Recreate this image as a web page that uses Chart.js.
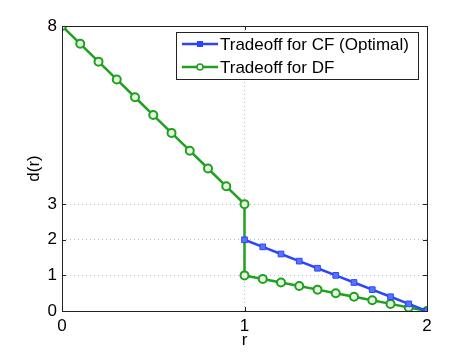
<!DOCTYPE html>
<html>
<head>
<meta charset="utf-8">
<script src="https://cdn.jsdelivr.net/npm/chart.js@4.4.0/dist/chart.umd.min.js"></script>
<style>
  html, body { margin: 0; padding: 0; background: #fff; }
  #wrap { width: 471px; height: 354px; }
</style>
</head>
<body>
<div id="wrap"><canvas id="chart" width="471" height="354"></canvas></div>
<script>
// data
var cfR = [1, 1.1, 1.2, 1.3, 1.4, 1.5, 1.6, 1.7, 1.8, 1.9, 2];
var cfD = [2, 1.8, 1.6, 1.4, 1.2, 1, 0.8, 0.6, 0.4, 0.2, 0];

var dfR = [0, 0.1, 0.2, 0.3, 0.4, 0.5, 0.6, 0.7, 0.8, 0.9, 1, 1, 1.1, 1.2, 1.3, 1.4, 1.5, 1.6, 1.7, 1.8, 1.9, 2];
var dfD = [8, 7.5, 7, 6.5, 6, 5.5, 5, 4.5, 4, 3.5, 3, 1, 0.9, 0.8, 0.7, 0.6, 0.5, 0.4, 0.3, 0.2, 0.1, 0];

var xTicks = [0, 1, 2];
var yTicks = [0, 1, 2, 3, 8];

var labels = ["Tradeoff for CF (Optimal)", "Tradeoff for DF"];

var blue = "#2b45ff";
var green = "#1fa01f";
var fontFam = "'Liberation Sans', Arial, sans-serif";
var fs = 17;

function toPts(xs, ys) {
    return xs.map(function (x, i) { return { x: x, y: ys[i] } });
}

// box + inward ticks + legend, matlab style
var boxPlugin = {
    id: 'boxPlugin',
    afterDraw: function (chart) {
        var ctx = chart.ctx;
        var a = chart.chartArea;
        var sx = chart.scales.x, sy = chart.scales.y;
        ctx.save();
        ctx.strokeStyle = '#222';
        ctx.lineWidth = 1;
        ctx.setLineDash([]);
        ctx.strokeRect(Math.round(a.left) + 0.5, Math.round(a.top) + 0.5, Math.round(a.right - a.left), Math.round(a.bottom - a.top));
        ctx.beginPath();
        xTicks.forEach(function (v) {
            var px = Math.round(sx.getPixelForValue(v)) + 0.5;
            ctx.moveTo(px, a.bottom); ctx.lineTo(px, a.bottom - 4);
            ctx.moveTo(px, a.top); ctx.lineTo(px, a.top + 4);
        });
        yTicks.forEach(function (v) {
            var py = Math.round(sy.getPixelForValue(v)) + 0.5;
            ctx.moveTo(a.left, py); ctx.lineTo(a.left + 4, py);
            ctx.moveTo(a.right, py); ctx.lineTo(a.right - 4, py);
        });
        ctx.stroke();

        // legend
        var lx = 176.5, ly = 32.5, lw = 242, lh = 47;
        ctx.fillStyle = '#fff';
        ctx.fillRect(lx, ly, lw, lh);
        ctx.strokeStyle = '#222';
        ctx.strokeRect(lx, ly, lw, lh);
        var rows = [44, 67];
        var cols = [blue, green];
        ctx.font = fs + "px " + fontFam;
        ctx.textBaseline = 'middle';
        rows.forEach(function (y, i) {
            ctx.strokeStyle = cols[i];
            ctx.lineWidth = 2.5;
            ctx.beginPath();
            ctx.moveTo(182, y); ctx.lineTo(218, y);
            ctx.stroke();
            ctx.lineWidth = 1.5;
            if (i == 0) {
                ctx.fillStyle = blue;
                ctx.fillRect(197, y - 3, 6, 6);
            } else {
                ctx.fillStyle = '#fff';
                ctx.beginPath();
                ctx.arc(200, y, 3, 0, Math.PI * 2);
                ctx.fill();
                ctx.stroke();
            }
            ctx.fillStyle = '#000';
            ctx.fillText(labels[i], 220, y + 1);
        });
        ctx.restore();
    }
};

var ctx = document.getElementById("chart").getContext("2d");

new Chart(ctx, {
    type: "scatter",
    data: {
        datasets: [{
            label: labels[0],
            data: toPts(cfR, cfD),
            showLine: true,
            borderColor: blue,
            backgroundColor: blue,
            borderWidth: 2.5,
            pointStyle: 'rect',
            pointRadius: 4,
            pointBorderWidth: 1,
            pointBorderColor: blue,
            pointBackgroundColor: '#5a73ff',
            tension: 0
        }, {
            label: labels[1],
            data: toPts(dfR, dfD),
            showLine: true,
            borderColor: green,
            backgroundColor: green,
            borderWidth: 2.5,
            pointStyle: 'circle',
            pointRadius: 4,
            pointBorderWidth: 2,
            pointBorderColor: green,
            pointBackgroundColor: '#e8f5e0',
            tension: 0
        }]
    },
    options: {
        responsive: false,
        animation: false,
        layout: { padding: { left: 0, right: 44, top: 26, bottom: 0 } },
        plugins: {
            legend: { display: false },
            tooltip: { enabled: false }
        },
        scales: {
            x: {
                type: 'linear',
                min: 0,
                max: 2,
                afterBuildTicks: function (s) { s.ticks = xTicks.map(function (v) { return { value: v } }) },
                afterFit: function (s) { s.height = 43 },
                grid: { color: '#bbb', drawTicks: false, lineWidth: 1 },
                border: { display: false, dash: [1, 3] },
                ticks: { color: '#000', padding: 5, font: { size: fs, family: fontFam }, maxRotation: 0 },
                title: { display: true, text: 'r', color: '#000', font: { size: fs, family: fontFam }, padding: { top: 0, bottom: 3 } }
            },
            y: {
                type: 'linear',
                min: 0,
                max: 8,
                afterBuildTicks: function (s) { s.ticks = yTicks.map(function (v) { return { value: v } }) },
                afterFit: function (s) { s.width = 62 },
                grid: { color: '#bbb', drawTicks: false, lineWidth: 1 },
                border: { display: false, dash: [1, 3] },
                ticks: { color: '#000', padding: 5, font: { size: fs, family: fontFam } },
                title: { display: true, text: 'd(r)', color: '#000', font: { size: fs, family: fontFam }, padding: { top: 24, bottom: 0 } }
            }
        }
    },
    plugins: [boxPlugin]
});
</script>
</body>
</html>
